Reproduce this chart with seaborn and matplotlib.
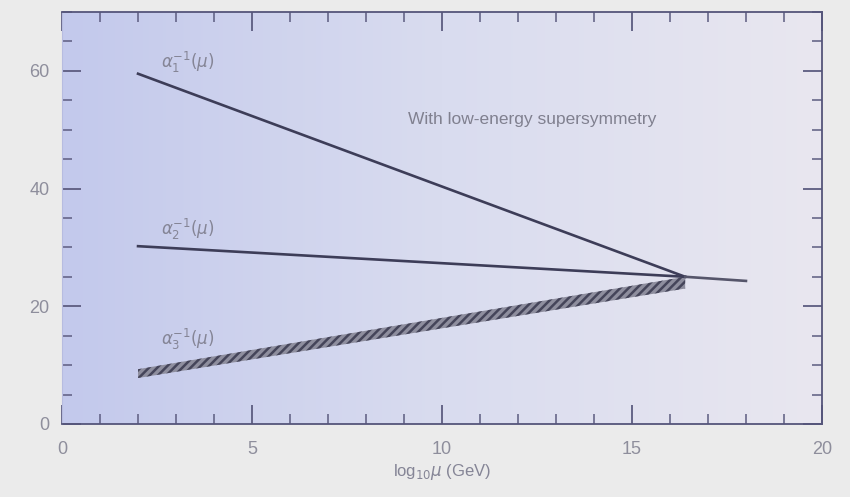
import numpy as np
import pandas as pd
import matplotlib
matplotlib.use("Agg")
import matplotlib.pyplot as plt
from matplotlib.ticker import MultipleLocator
import seaborn as sns

# ---- data ----
log_mu = [2.0, 16.4]
alpha1_inv = [59.5, 25.0]
alpha2_inv = [30.2, 25.0]
alpha3_inv_low = [7.8, 23.0]
alpha3_inv_high = [9.3, 25.0]
unified_mu = [16.4, 18.0]
unified_inv = [25.0, 24.3]
x_ticks = [0, 5, 10, 15, 20]
y_ticks = [0, 20, 40, 60]
labels = [r"$\alpha_1^{-1}(\mu)$", r"$\alpha_2^{-1}(\mu)$", r"$\alpha_3^{-1}(\mu)$"]
label_pos_y = [61.5, 33.0, 14.3]
annotation = "With low-energy supersymmetry"

plt.rcParams['font.family'] = ['Liberation Sans', 'DejaVu Sans']
plt.rcParams['mathtext.fontset'] = 'dejavusans'

fig = plt.figure(figsize=(8.5, 4.97), dpi=100, facecolor='#ebebeb')
ax = fig.add_axes([0.073, 0.147, 0.894, 0.829])
ax.set_xlim(0, 20)
ax.set_ylim(0, 70)

# gradient background
grad = np.linspace(0, 1, 256).reshape(1, -1)
cmap = matplotlib.colors.LinearSegmentedColormap.from_list(
    'bg', ['#c3c9ec', '#d9dcef', '#e9e7f0'])
ax.imshow(grad, extent=[0, 20, 0, 70], aspect='auto', cmap=cmap, zorder=0)

line_col = '#3d3d58'
df1 = pd.DataFrame({'x': log_mu, 'y': alpha1_inv})
df2 = pd.DataFrame({'x': log_mu, 'y': alpha2_inv})
dfu = pd.DataFrame({'x': unified_mu, 'y': unified_inv})
sns.lineplot(data=df1, x='x', y='y', ax=ax, color=line_col, lw=1.9, zorder=3)
sns.lineplot(data=df2, x='x', y='y', ax=ax, color=line_col, lw=1.9, zorder=3)
sns.lineplot(data=dfu, x='x', y='y', ax=ax, color='#55556a', lw=1.9, zorder=3)

matplotlib.rcParams['hatch.linewidth'] = 1.8
ax.fill_between(log_mu, alpha3_inv_low, alpha3_inv_high, facecolor='#8e8e9e',
                edgecolor='#45455a', hatch='////', lw=0, zorder=2)

txt_col = '#858596'
for lab, yy in zip(labels, label_pos_y):
    ax.text(2.6, yy, lab, color=txt_col, fontsize=12, va='center', ha='left')
ax.text(9.1, 51.7, annotation, color='#80808f', fontsize=12.5, va='center', ha='left')

ax.set_xlabel(r"log$_{10}\mu$ (GeV)", color=txt_col, fontsize=12, labelpad=3)
ax.set_ylabel("")
ax.set_xticks(x_ticks)
ax.set_yticks(y_ticks)
ax.xaxis.set_minor_locator(MultipleLocator(1))
ax.yaxis.set_minor_locator(MultipleLocator(5))
ax.tick_params(which='both', direction='in', top=True, right=True,
               colors='#5c5c80', labelcolor='#8e8e9c', labelsize=13)
ax.tick_params(axis='x', which='both', pad=12)
ax.tick_params(axis='y', which='both', pad=9)
ax.tick_params(which='major', length=14, width=1.3)
ax.tick_params(which='minor', length=7, width=1.1)
for side in ['top', 'right', 'bottom']:
    ax.spines[side].set_color('#55557a')
    ax.spines[side].set_linewidth(1.3)
ax.spines['left'].set_color('#b7bce0')
ax.spines['left'].set_linewidth(0.8)

fig.savefig('out.png', dpi=100, facecolor=fig.get_facecolor())
